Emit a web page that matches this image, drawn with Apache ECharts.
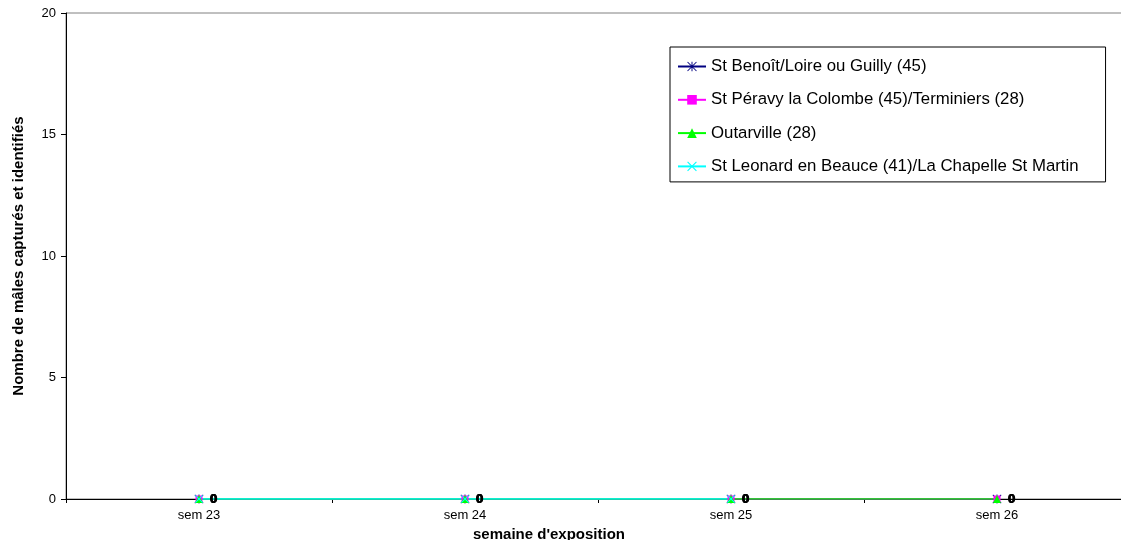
<!DOCTYPE html>
<html>
<head>
<meta charset="utf-8">
<script src="https://cdn.jsdelivr.net/npm/echarts@6/dist/echarts.min.js"></script>
<style>html,body{margin:0;padding:0;background:#fff}#c{width:1121px;height:540px}</style>
</head>
<body>
<div id="c"></div>
<script>
var categories = ['sem 23', 'sem 24', 'sem 25', 'sem 26'];
var seriesNames = [
  'St Benoît/Loire ou Guilly (45)',
  'St Péravy la Colombe (45)/Terminiers (28)',
  'Outarville (28)',
  'St Leonard en Beauce (41)/La Chapelle St Martin'
];
var benoitValues = [0, 0, 0, 0];
var peravyValues = [0, 0, 0, 0];
var outarvilleValues = [0, 0, 0, 0];
var leonardValues = [0, 0, 0, null];
var yTicks = { min: 0, max: 20, interval: 5 };

var starPath = 'path://M4.5 0L5.5 0L5.5 10L4.5 10Z M0 0.7L0.7 0L10 9.3L9.3 10Z M9.3 0L10 0.7L0.7 10L0 9.3Z';
var xPath = 'path://M0 0.8L0.8 0L10 9.2L9.2 10Z M9.2 0L10 0.8L0.8 10L0 9.2Z';

var font = 'Liberation Sans, Arial, sans-serif';
function mk(name, data, color, symbol, size) {
  return {
    name: name, type: 'line', data: data,
    symbol: symbol, symbolSize: size, showAllSymbol: true,
    lineStyle: { color: color, width: 1.5 },
    itemStyle: { color: color },
    label: { show: true, position: 'right', distance: 7, formatter: '{c}',
      fontFamily: font, fontSize: 13, fontWeight: 'bold', color: '#000' },
    emphasis: { disabled: true },
    animation: false
  };
}
var chart = echarts.init(document.getElementById('c'), null, { renderer: 'canvas' });
chart.setOption({
  backgroundColor: '#fff',
  animation: false,
  grid: { left: 66, top: 13, width: 1064, height: 486, outerBoundsMode: 'none', containLabel: false,
    show: true, borderColor: '#808080', borderWidth: 1, backgroundColor: '#fff' },
  legend: {
    orient: 'vertical', left: 670, top: 47,
    padding: [11, 27, 7, 7], itemGap: 16.3,
    itemWidth: 28, itemHeight: 12,
    borderColor: '#000', borderWidth: 1, backgroundColor: '#fff',
    textStyle: { fontFamily: font, fontSize: 16.8, color: '#000' },
    data: seriesNames
  },
  xAxis: {
    type: 'category', data: categories, boundaryGap: true,
    name: "semaine d'exposition", nameLocation: 'middle', nameGap: 24,
    nameTextStyle: { fontFamily: font, fontSize: 15, fontWeight: 'bold', color: '#000', padding: [0, 98, 0, 0] },
    axisLine: { lineStyle: { color: '#000', width: 1 } },
    axisTick: { show: true, length: 4, alignWithLabel: false, lineStyle: { color: '#000' } },
    axisLabel: { fontFamily: font, fontSize: 13, color: '#000', margin: 10 },
    splitLine: { show: false }
  },
  yAxis: {
    type: 'value', min: yTicks.min, max: yTicks.max, interval: yTicks.interval,
    name: 'Nombre de mâles capturés et identifiés', nameLocation: 'middle', nameGap: 40,
    nameTextStyle: { fontFamily: font, fontSize: 15, fontWeight: 'bold', color: '#000' },
    axisLine: { show: true, lineStyle: { color: '#000', width: 1 } },
    axisTick: { show: true, length: 5, lineStyle: { color: '#000' } },
    axisLabel: { fontFamily: font, fontSize: 13, color: '#000', margin: 10 },
    splitLine: { show: false }
  },
  series: [
    mk(seriesNames[0], benoitValues, '#000080', starPath, 9),
    mk(seriesNames[1], peravyValues, '#FF00FF', 'rect', 7),
    mk(seriesNames[2], outarvilleValues, '#00FF00', 'triangle', 8),
    mk(seriesNames[3], leonardValues, '#00FFFF', xPath, 8)
  ]
});
</script>
</body>
</html>
